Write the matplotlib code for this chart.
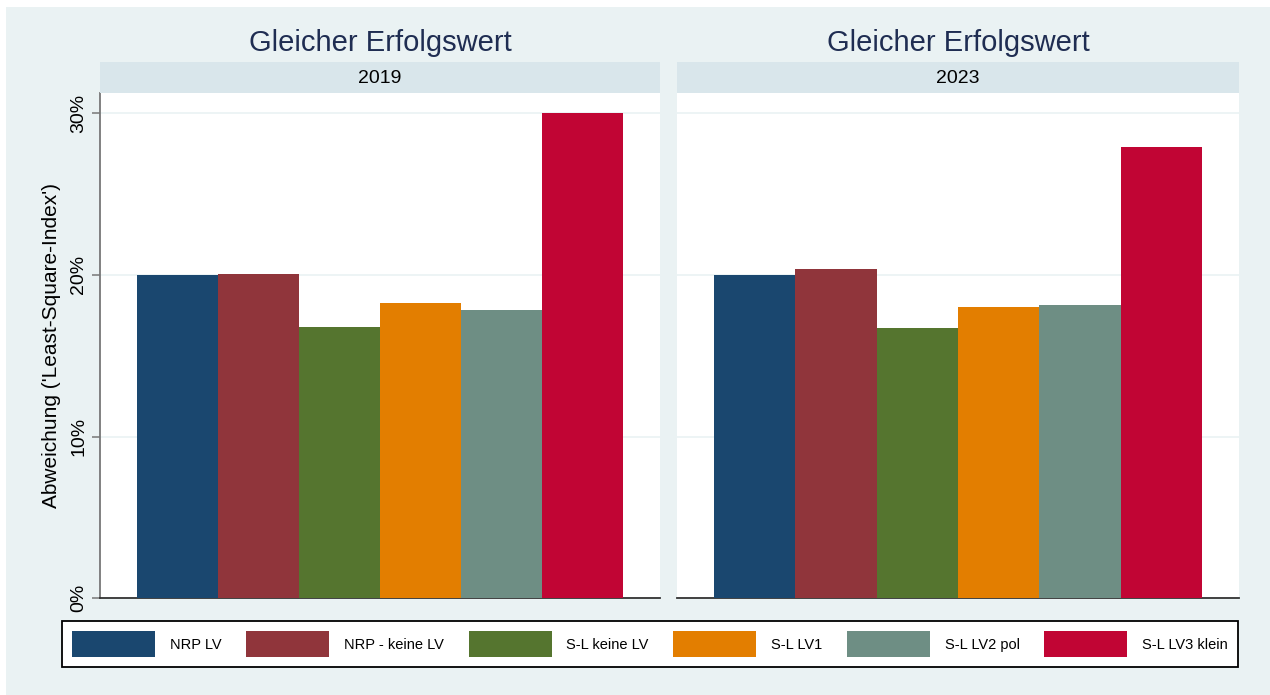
import matplotlib.pyplot as plt
from matplotlib.patches import Rectangle, Patch
import numpy as np

plt.rcParams['font.family'] = ['Liberation Sans', 'DejaVu Sans']

# data
categories = ['NRP LV', 'NRP - keine LV', 'S-L keine LV', 'S-L LV1', 'S-L LV2 pol', 'S-L LV3 klein']
colors = ['#1a476f', '#90353b', '#55752f', '#e37e00', '#6e8e84', '#c10534']
years = ['2019', '2023']
values_2019 = [20.0, 20.07, 16.76, 18.26, 17.83, 30.0]
values_2023 = [20.01, 20.38, 16.72, 18.01, 18.14, 27.91]
panel_title = 'Gleicher Erfolgswert'
ylabel = "Abweichung ('Least-Square-Index')"
yticks = [0, 10, 20, 30]

W, H = 1270, 695
fig = plt.figure(figsize=(W / 100, H / 100), dpi=100, facecolor='white')

# graph region background
fig.patches.append(Rectangle((6 / W, 0), 1 - 6 / W, 1 - 7 / H, transform=fig.transFigure,
                             facecolor='#eaf2f3', edgecolor='none', zorder=-10))

bg = '#eaf2f3'
strip_col = '#d9e6eb'
title_col = '#1f2d52'
panels = [(100, 560, values_2019, years[0], True), (677, 562, values_2023, years[1], False)]

ax_bottom = 1 - 598.3 / H
ax_height = (598.3 - 92.7) / H
x = np.arange(len(categories))

for left, width, vals, year, show_y in panels:
    ax = fig.add_axes([left / W, ax_bottom, width / W, ax_height])
    ax.set_facecolor('white')
    ax.bar(x, vals, width=1.0, color=colors, edgecolor='none', zorder=3)
    margin = 37 / 81
    ax.set_xlim(-0.5 - margin, len(categories) - 0.5 + margin)
    ax.set_ylim(0, 31.27)
    ax.set_yticks(yticks)
    ax.grid(axis='y', color=bg, linewidth=1.2, zorder=0)
    ax.set_xticks([])
    for s in ['top', 'right']:
        ax.spines[s].set_visible(False)
    ax.spines['bottom'].set_color('#333333')
    ax.spines['bottom'].set_linewidth(1.3)
    if show_y:
        ax.spines['left'].set_color('#777777')
        ax.spines['left'].set_linewidth(1.3)
        ax.set_yticklabels([f'{t}%' for t in yticks], rotation=90, va='center', fontsize=14)
        ax.tick_params(axis='y', length=6, width=1.1, color='#777777', pad=3)
        ax.set_ylabel(ylabel, fontsize=15, labelpad=7)
    else:
        ax.spines['left'].set_visible(False)
        ax.tick_params(axis='y', length=0, labelleft=False)

    # strip header
    sax = fig.add_axes([left / W, 1 - 92.7 / H, width / W, 30.7 / H])
    sax.set_facecolor(strip_col)
    sax.set_xticks([])
    sax.set_yticks([])
    for s in sax.spines.values():
        s.set_visible(False)
    sax.text(0.5, 0.45, year, ha='center', va='center', fontsize=14, transform=sax.transAxes)

    fig.text((left + width / 2) / W, 1 - 43 / H, panel_title, ha='center', va='center',
             fontsize=21, color=title_col)

handles = [Patch(facecolor=c, edgecolor='none') for c in colors]
leg = fig.legend(handles, categories, ncol=6, loc='lower left',
                 bbox_to_anchor=(62 / W, 1 - 667 / H, (1238 - 62) / W, 45 / H),
                 mode='expand', frameon=True, fancybox=False, fontsize=10.5,
                 handlelength=5.7, handleheight=2.3, handletextpad=1.0,
                 columnspacing=1.0, borderaxespad=0, borderpad=0.7)
leg.get_frame().set_edgecolor('black')
leg.get_frame().set_linewidth(1.3)
leg.get_frame().set_facecolor('white')
leg.get_frame().set_alpha(1)

fig.savefig('out.png', dpi=100, facecolor=fig.get_facecolor())
